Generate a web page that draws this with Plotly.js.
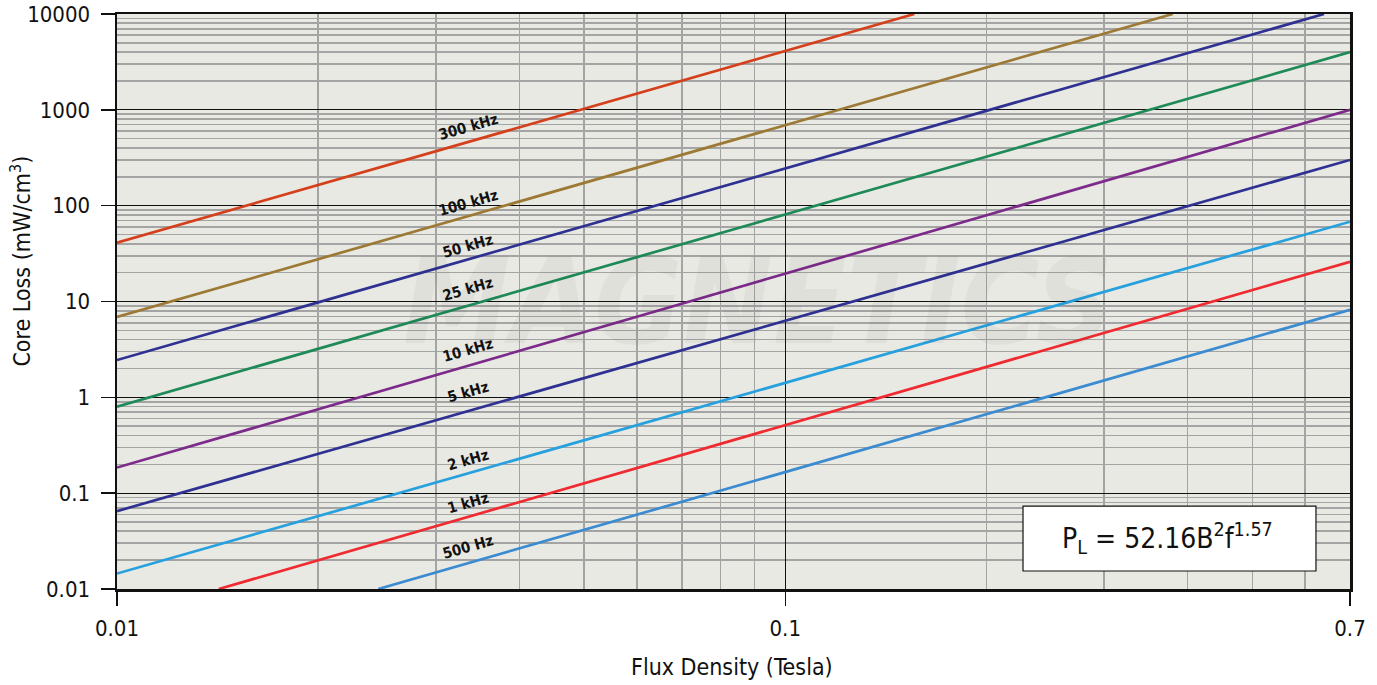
<!DOCTYPE html>
<html>
<head>
<meta charset="utf-8">
<script src="https://cdn.plot.ly/plotly-3.0.1.min.js"></script>
<style>html,body{margin:0;padding:0;background:#fff;}#chart{width:1377px;height:685px;}</style>
</head>
<body>
<div id="chart"></div>
<script>
// Curve labels (frequency)
const freqLabels = ["300 kHz", "100 kHz", "50 kHz", "25 kHz", "10 kHz", "5 kHz", "2 kHz", "1 kHz", "500 Hz"];
// Endpoints: flux density (T) and core loss (mW/cm^3)
const bStart = [0.01, 0.01, 0.01, 0.01, 0.01, 0.01, 0.01, 0.0142, 0.0246];
const bEnd   = [0.156, 0.38, 0.64, 0.7, 0.7, 0.7, 0.7, 0.7, 0.7];
const lossStart = [41, 6.9, 2.45, 0.8, 0.185, 0.065, 0.0145, 0.01, 0.01];
const lossEnd   = [10000, 10000, 10000, 4000, 1000, 300, 68, 26, 8.2];
const lineColors = ["#d4401c", "#9c7a35", "#2e3192", "#1e8a58", "#7d2b8b", "#2e3192", "#27a0de", "#ef2b31", "#3b8bd0"];

// Axis tick labels
const xTickVals = [0.01, 0.1, 0.7];
const xTickText = ["0.01", "0.1", "0.7"];
const yTickVals = [0.01, 0.1, 1, 10, 100, 1000, 10000];
const yTickText = ["0.01", "0.1", "1", "10", "100", "1000", "10000"];

// Label placement (paper coords)
const labelX = 0.2847;
const labelY = [0.8035, 0.6713, 0.5965, 0.5217, 0.4157, 0.3426, 0.2243, 0.1496, 0.0730];

const FONT = "DejaVu Sans Condensed";

// Minor grid positions (log decades 2..9)
const xMinor = [];
[0.01, 0.1].forEach(d => { for (let k = 2; k <= 9; k++) { const v = d * k; if (v < 0.7) xMinor.push(+v.toPrecision(3)); } });
const yMinor = [];
[0.01, 0.1, 1, 10, 100, 1000].forEach(d => { for (let k = 2; k <= 9; k++) yMinor.push(+(d * k).toPrecision(3)); });

const traces = freqLabels.map((name, i) => ({
  type: "scatter", mode: "lines", name: name,
  x: [bStart[i], bEnd[i]], y: [lossStart[i], lossEnd[i]],
  line: {color: lineColors[i], width: 2.7},
  showlegend: false, hoverinfo: "skip"
}));

const annotations = [{
  // faint background watermark
  xref: "paper", yref: "paper", x: 0.52, y: 0.50, xanchor: "center", yanchor: "middle",
  text: "<i><b>MAGNETICS</b></i>", showarrow: false,
  font: {family: FONT, size: 120, color: "rgba(0,0,0,0.035)"}
}];

freqLabels.forEach((t, i) => annotations.push({
  xref: "paper", yref: "paper", x: labelX, y: labelY[i],
  xanchor: "center", yanchor: "middle",
  text: t, showarrow: false, textangle: -16,
  font: {family: FONT, size: 15, color: "#111", weight: 600}
}));

annotations.push({
  xref: "paper", yref: "paper", x: 0.7648, y: 0.088, xanchor: "left", yanchor: "middle",
  text: "P<sub>L</sub> = 52.16B<sup>2</sup>f<sup>1.57</sup>", showarrow: false,
  font: {family: FONT, size: 28, color: "#111"}
});
annotations.push({
  xref: "paper", yref: "paper", x: 0.4985, y: -0.1357, xanchor: "center", yanchor: "middle",
  text: "Flux Density (Tesla)", showarrow: false,
  font: {family: FONT, size: 23, color: "#111"}
});
annotations.push({
  xref: "paper", yref: "paper", x: -0.0782, y: 0.5704, xanchor: "center", yanchor: "middle",
  text: "Core Loss (mW/cm<sup>3</sup>)", showarrow: false, textangle: -90,
  font: {family: FONT, size: 23, color: "#111"}
});

const layout = {
  width: 1377, height: 685,
  margin: {l: 117, r: 27, t: 14, b: 96},
  paper_bgcolor: "#ffffff", plot_bgcolor: "#e9e9e3",
  font: {family: FONT, color: "#111"},
  xaxis: {
    type: "log", range: [Math.log10(0.01), Math.log10(0.7)],
    tickmode: "array", tickvals: xTickVals, ticktext: xTickText,
    ticks: "outside", ticklen: 14, tickwidth: 1.5, tickcolor: "#111",
    ticklabelstandoff: 4, ticklabeloverflow: "allow",
    tickfont: {family: FONT, size: 22, color: "#111"},
    showgrid: true, gridcolor: "#111", gridwidth: 1.3,
    showline: true, linecolor: "#111", linewidth: 2.5, mirror: true,
    zeroline: false,
    minor: {tickmode: "array", tickvals: xMinor, showgrid: true, gridcolor: "#a4a4a4", gridwidth: 1.6, ticks: ""}
  },
  yaxis: {
    type: "log", range: [-2, 4],
    tickmode: "array", tickvals: yTickVals, ticktext: yTickText,
    ticks: "outside", ticklen: 14, tickwidth: 1.5, tickcolor: "#111",
    ticklabelstandoff: 6, ticklabeloverflow: "allow",
    tickfont: {family: FONT, size: 22, color: "#111"},
    showgrid: true, gridcolor: "#111", gridwidth: 1.3,
    showline: true, linecolor: "#111", linewidth: 2.5, mirror: true,
    zeroline: false,
    minor: {tickmode: "array", tickvals: yMinor, showgrid: true, gridcolor: "#a4a4a4", gridwidth: 1.6, ticks: ""}
  },
  shapes: [{
    type: "rect", xref: "paper", yref: "paper",
    x0: 0.7348, x1: 0.9724, y0: 0.0313, y1: 0.1443,
    fillcolor: "#ffffff", line: {color: "#111", width: 1.2}, layer: "above"
  }],
  annotations: annotations
};

Plotly.newPlot("chart", traces, layout, {staticPlot: true, displayModeBar: false});
</script>
</body>
</html>
